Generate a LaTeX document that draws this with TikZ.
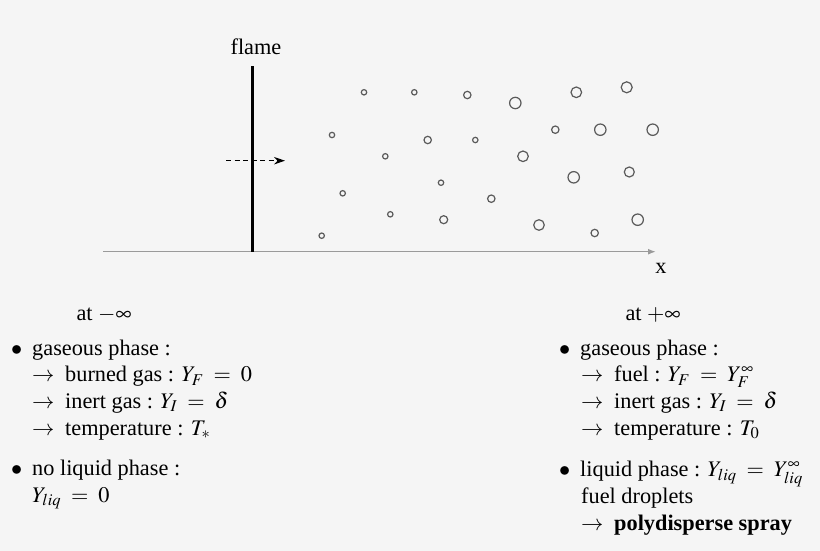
\documentclass[tikz,border=0pt]{standalone}
\usepackage{amsmath}
\usepackage{mathptmx}
\usepackage{fontspec}
\setmainfont{Liberation Serif}
\usepackage{tikz}
\usetikzlibrary{arrows.meta}

\definecolor{bg}{HTML}{F5F5F5}
\definecolor{drop}{HTML}{5A5A5A}
\definecolor{axis}{HTML}{9A9A9A}

\thickmuskip=8mu plus 5mu
\newcommand{\arr}{\makebox[33pt][l]{$\rightarrow$}}
\newcommand{\blt}{\makebox[21pt][l]{$\bullet$}}

\begin{document}
\begin{tikzpicture}[x=1pt, y=-1pt,
  txt/.style = {anchor=base west, inner sep=0pt, font=\fontsize{22.3}{26.7}\selectfont},
  lbl/.style = {anchor=base, inner sep=0pt, font=\fontsize{22.3}{26.7}\selectfont},
  drop/.style = {draw=drop, line width=1.2pt}]
\fill[bg] (0,0) rectangle (820,551);
\useasboundingbox (0,0) rectangle (820,551);

% axis and flame
\coordinate (o) at (103,251.7);
\coordinate (xe) at (656,251.7);
\draw[axis, line width=1.5pt, -{Latex[length=8pt, width=6pt]}] (o) -- (xe);
\node[lbl] (xl) at (661,273) {x};
\coordinate (fb) at (252.5,251.7);
\coordinate (ft) at (252.5,66);
\draw[line width=2.4pt] (fb) -- (ft);
\node[lbl] (flame) at (256,55) {flame};
\coordinate (da) at (226,160.7);
\coordinate (db) at (285,160.7);
\draw[line width=1pt, dash pattern=on 5pt off 3.5pt, -{Stealth[length=11pt, width=7.5pt]}] (da) -- (db);

% droplets
\foreach \x/\y/\r in {364/92.3/2.7, 414.3/92.3/2.7, 467.3/95/3.7, 515.3/103/5.7,
  576.3/92.3/5.3, 626.7/87.3/5.5, 332/135/2.7, 427.7/140/3.7, 475.3/140/2.7,
  523/156.3/5.3, 555.3/129.7/3.7, 600.3/129.7/5.7, 652.7/129.7/5.7,
  385.3/156.3/2.7, 441/182.7/2.7, 573.7/177.3/5.7, 629.3/172/5,
  342.7/193.3/2.7, 491.3/198.7/3.7, 390.3/214.3/2.7, 443.7/219.7/4,
  539/225/5.3, 594.7/233/3.7, 637.7/219.7/5.7, 321.7/235.7/2.7}
  \draw[drop] (\x,\y) circle (\r);

% left column
\node[lbl] (lm) at (104,320.7) {at $-\infty$};
\node[txt] (l1) at (11,355) {\blt gaseous phase :};
\node[txt] (l2) at (32,381.7) {\arr burned gas : $Y_F = 0$};
\node[txt] (l3) at (32,408.3) {\arr inert gas : $Y_I = \delta$};
\node[txt] (l4) at (32,435) {\arr temperature : $T_*$};
\node[txt] (l5) at (11,475) {\blt no liquid phase :};
\node[txt] (l6) at (32,502) {$Y_{liq} = 0$};

% right column
\node[lbl] (rm) at (653,320.7) {at $+\infty$};
\node[txt] (r1) at (559,355) {\blt gaseous phase :};
\node[txt] (r2) at (581,381.7) {\arr fuel : $Y_F = Y_F^\infty$};
\node[txt] (r3) at (581,408.3) {\arr inert gas : $Y_I = \delta$};
\node[txt] (r4) at (581,435) {\arr temperature : $T_0$};
\node[txt] (r5) at (559,476.5) {\blt liquid phase : $Y_{liq} = Y_{liq}^\infty$};
\node[txt] (r6) at (581,503.3) {fuel droplets};
\node[txt] (r7) at (581,530.5) {\arr \textbf{polydisperse spray}};
\end{tikzpicture}
\end{document}
